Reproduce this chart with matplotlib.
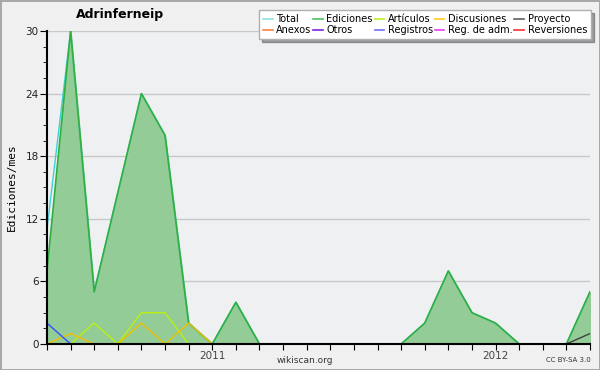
import numpy as np
import matplotlib
matplotlib.use('Agg')
import matplotlib.pyplot as plt
from matplotlib.lines import Line2D

# Monthly data, Jun 2010 .. May 2012
months = np.arange(24)
year_ticks = {7: '2011', 19: '2012'}

total = [11, 30, 5, 14.5, 24, 20, 2, 0, 4, 0, 0, 0, 0, 0, 0, 0, 2, 7, 3, 2, 0, 0, 0, 5]
ediciones = [7, 30, 5, 14.5, 24, 20, 2, 0, 4, 0, 0, 0, 0, 0, 0, 0, 2, 7, 3, 2, 0, 0, 0, 5]
articulos = [0, 0, 2, 0, 3, 3, 0, 0, 0, 0, 0, 0, 0, 0, 0, 0, 0, 0, 0, 0, 0, 0, 0, 0]
discusiones = [0, 1, 0, 0, 2, 0, 2, 0, 0, 0, 0, 0, 0, 0, 0, 0, 0, 0, 0, 0, 0, 0, 0, 0]
proyecto = [0, 0, 0, 0, 0, 0, 0, 0, 0, 0, 0, 0, 0, 0, 0, 0, 0, 0, 0, 0, 0, 0, 0, 1]
registros = [2, 0, 0, 0, 0, 0, 0, 0, 0, 0, 0, 0, 0, 0, 0, 0, 0, 0, 0, 0, 0, 0, 0, 0]

legend_names = ['Total', 'Ediciones', 'Artículos', 'Discusiones', 'Proyecto',
                'Anexos', 'Otros', 'Registros', 'Reg. de adm.', 'Reversiones']
legend_colors = ['#90e0e0', '#50c060', '#c0f020', '#ffc820', '#606060',
                 '#ff8040', '#8020e0', '#7070ff', '#e040f0', '#ff3030']

fig = plt.figure(figsize=(6, 3.7), dpi=100)
fig.patch.set_facecolor('#f0f0f0')
fig.patch.set_edgecolor('#a8a8a8')
fig.patch.set_linewidth(2)

ax = fig.add_axes([0.0783, 0.0703, 0.905, 0.8459])
ax.set_facecolor('#eef0f2')

ax.fill_between(months, ediciones, 0, color='#94cc98', zorder=2)
ax.plot(months, total, color='#40d0d0', lw=1, zorder=3)
ax.plot(months, ediciones, color='#30b040', lw=1.2, zorder=4)
ax.plot(months, articulos, color='#b8f010', lw=1, zorder=5)
ax.plot(months, discusiones, color='#f0c000', lw=1, zorder=5)
ax.plot(months, registros, color='#3050ff', lw=1, zorder=5)
ax.plot(months, proyecto, color='#404040', lw=1, zorder=5)

ax.set_xlim(0, 23)
ax.set_ylim(0, 30)
ax.set_yticks([0, 6, 12, 18, 24, 30])
ax.set_yticks(np.arange(0, 30.1, 1.5), minor=True)
ax.set_xticks(months)
ax.set_xticklabels([year_ticks.get(m, '') for m in months])
ax.grid(axis='y', color='#c8c8c8', lw=1, zorder=1)
ax.set_axisbelow(True)

ax.tick_params(axis='both', which='major', direction='out', length=5,
               labelsize=7.5, labelcolor='#222222', pad=1)
ax.tick_params(axis='y', which='minor', direction='out', length=3)
ax.tick_params(axis='x', which='major', length=4, labelcolor='#444444')

for side in ['top', 'right']:
    ax.spines[side].set_visible(False)
for side in ['left', 'bottom']:
    ax.spines[side].set_linewidth(1.5)
    ax.spines[side].set_zorder(10)

ax.set_ylabel('Ediciones/mes', fontsize=8, family='DejaVu Sans Mono', labelpad=6)

handles = [Line2D([0], [0], color=c, lw=1.2) for c in legend_colors]
# legend fills column by column, so interleave the two rows
order = [0, 5, 1, 6, 2, 7, 3, 8, 4, 9]
leg = fig.legend([handles[i] for i in order], [legend_names[i] for i in order],
                 ncol=5, loc='upper right', bbox_to_anchor=(0.988, 0.978),
                 fontsize=7, frameon=True, fancybox=False, shadow=True,
                 handlelength=1.0, handletextpad=0.35, columnspacing=0.2,
                 labelspacing=0.15, borderpad=0.4, borderaxespad=0.2)
leg.get_frame().set_edgecolor('#b0b0b0')
leg.get_frame().set_facecolor('white')

fig.text(0.2, 0.962, 'Adrinferneip', fontsize=9, fontweight='bold', ha='center', va='center')
fig.text(0.508, 0.027, 'wikiscan.org', fontsize=6.5, ha='center', va='center', color='#333333')
fig.text(0.947, 0.027, 'CC BY-SA 3.0', fontsize=5, ha='center', va='center', color='#333333')

fig.savefig('out.png', dpi=100, facecolor=fig.get_facecolor(), edgecolor=fig.get_edgecolor())
